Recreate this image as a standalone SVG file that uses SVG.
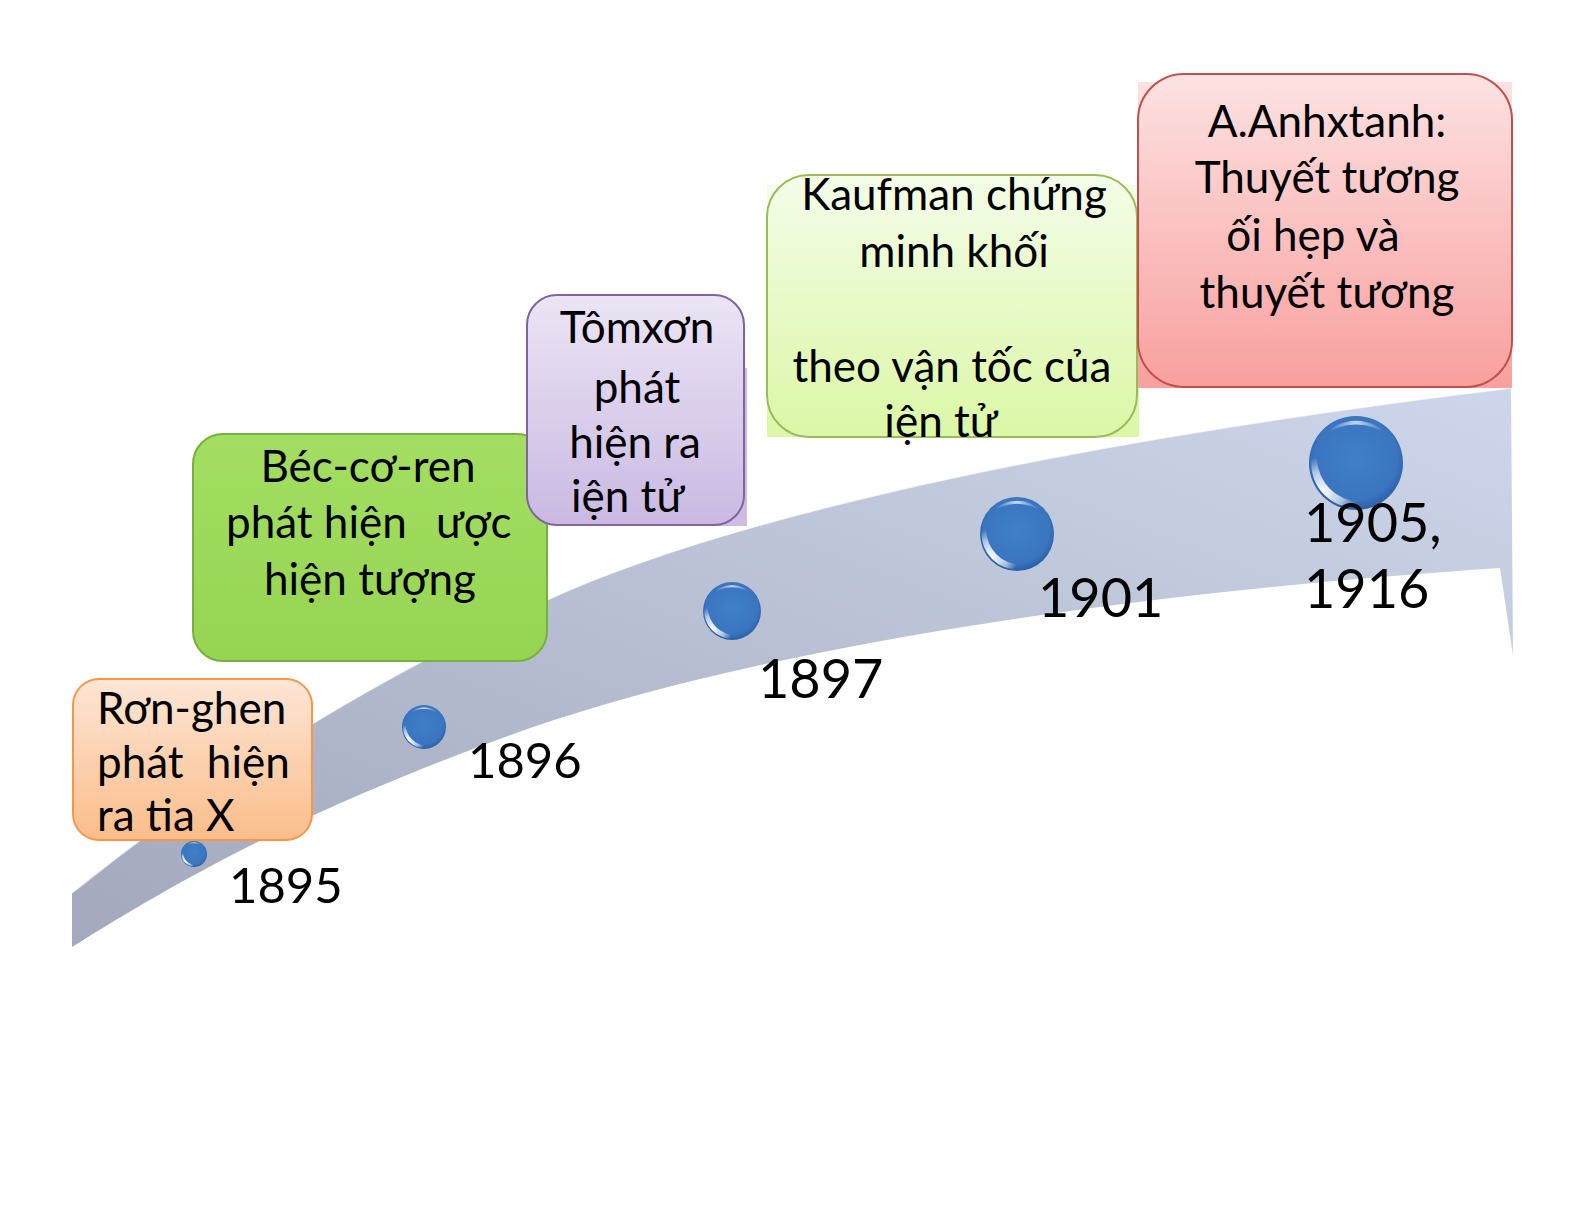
<svg xmlns="http://www.w3.org/2000/svg" xmlns:xlink="http://www.w3.org/1999/xlink" width="1585" height="1225" viewBox="0 0 1585 1225">
<style>
  text { font-family: Lato, "Liberation Sans", "Noto Sans", sans-serif; fill: #000; }
  .bx { font-size: 44px; }
  .yr { font-size: 54px; }
  .yrs { font-size: 49px; }
  .c { text-anchor: middle; }
</style>
<defs>
  <linearGradient id="gBand" x1="0" y1="1" x2="1" y2="0">
    <stop offset="0" stop-color="#a3a8bc"/>
    <stop offset="0.45" stop-color="#b6bdd1"/>
    <stop offset="1" stop-color="#cdd6ea"/>
  </linearGradient>
  <radialGradient id="gBall" cx="0.5" cy="0.45" r="0.55">
    <stop offset="0" stop-color="#4180c9"/>
    <stop offset="0.8" stop-color="#3a75c0"/>
    <stop offset="1" stop-color="#2b5ea5"/>
  </radialGradient>
  <radialGradient id="gShine" gradientUnits="userSpaceOnUse" cx="-0.72" cy="0.62" r="0.75">
    <stop offset="0" stop-color="#ffffff" stop-opacity="1"/>
    <stop offset="0.6" stop-color="#ffffff" stop-opacity="0.6"/>
    <stop offset="1" stop-color="#ffffff" stop-opacity="0"/>
  </radialGradient>
  <radialGradient id="gTop" gradientUnits="userSpaceOnUse" cx="0" cy="-0.85" r="0.6">
    <stop offset="0" stop-color="#ffffff" stop-opacity="0.7"/>
    <stop offset="1" stop-color="#ffffff" stop-opacity="0"/>
  </radialGradient>
  <linearGradient id="gOrange" x1="0" y1="0" x2="0" y2="1">
    <stop offset="0" stop-color="#fde6d6"/>
    <stop offset="1" stop-color="#fbbd8a"/>
  </linearGradient>
  <linearGradient id="gGreen" x1="0" y1="0" x2="0" y2="1">
    <stop offset="0" stop-color="#a3de62"/>
    <stop offset="1" stop-color="#96d452"/>
  </linearGradient>
  <linearGradient id="gPurple" x1="0" y1="0" x2="0" y2="1">
    <stop offset="0" stop-color="#ece5f5"/>
    <stop offset="1" stop-color="#c9b9e2"/>
  </linearGradient>
  <linearGradient id="gLime" x1="0" y1="0" x2="0" y2="1">
    <stop offset="0" stop-color="#f4fde8"/>
    <stop offset="1" stop-color="#dbf7a6"/>
  </linearGradient>
  <linearGradient id="gRed" x1="0" y1="0" x2="0" y2="1">
    <stop offset="0" stop-color="#fde2e2"/>
    <stop offset="1" stop-color="#f8a09e"/>
  </linearGradient>
  <g id="ball">
    <circle r="1" fill="url(#gBall)"/>
    <path d="M -0.72,-0.55 A 0.92 0.92 0 0 1 0.72,-0.55 A 1.1 1.1 0 0 0 -0.72,-0.55 Z" fill="url(#gTop)"/>
    <path d="M 0.741,0.611 A 0.96 0.96 0 1 1 -0.611,-0.741 A 0.96 0.96 0 0 0 0.741,0.611 Z" fill="url(#gShine)"/>
  </g>
</defs>

<rect width="1585" height="1225" fill="#ffffff"/>

<g id="timeline-band">
  <path d="M72,893 C200,790 350,690 547,600 C700,530 1000,450 1511,388 L1513,655 L1500,568 C1100,595 760,650 533,727 C300,810 180,880 72,947 Z" fill="url(#gBand)"/>
  <path d="M72,893 C200,790 350,690 547,600 C700,530 1000,450 1511,388" fill="none" stroke="#ffffff" stroke-width="1.5" opacity="0.7"/>
</g>

<g id="connectors"></g>

<g id="dot-1895"><use xlink:href="#ball" transform="translate(194,854) scale(13)"/></g>
<g id="dot-1896"><use xlink:href="#ball" transform="translate(424,727) scale(22)"/></g>
<g id="dot-1897"><use xlink:href="#ball" transform="translate(732,611) scale(29)"/></g>
<g id="dot-1901"><use xlink:href="#ball" transform="translate(1017,534) scale(37)"/></g>
<g id="dot-1905"><use xlink:href="#ball" transform="translate(1356,463) scale(47)"/></g>

<g id="label-1895"><text class="yrs" x="229" y="903">1895</text></g>
<g id="label-1896"><text class="yrs" x="468" y="778">1896</text></g>
<g id="label-1897"><text class="yr" x="758" y="698">1897</text></g>
<g id="label-1901"><text class="yr" x="1038" y="617">1901</text></g>
<g id="label-1905"><text class="yr" x="1304" y="542">1905,</text><text class="yr" x="1304" y="608">1916</text></g>

<g id="box-ronghen">
  <rect x="73" y="679" width="239" height="161" rx="26" fill="url(#gOrange)" stroke="#f79646" stroke-width="2"/>
  <text class="bx" x="97" y="724">Rơn-ghen</text>
  <text class="bx" x="97" y="778" word-spacing="12">phát hiện</text>
  <text class="bx" x="97" y="831">ra tia X</text>
</g>

<g id="box-beccoren">
  <rect x="193" y="434" width="354" height="227" rx="30" fill="url(#gGreen)" stroke="#76b03e" stroke-width="2"/>
  <text class="bx c" x="368" y="482">Béc-cơ-ren</text>
  <text class="bx" x="226" y="538">phát hiện <tspan x="436">ược</tspan></text>
  <text class="bx c" x="370" y="595">hiện tượng</text>
</g>

<g id="box-tomxon">
  <rect x="700" y="368" width="47" height="158" fill="#cdbde4"/>
  <rect x="527" y="295" width="217" height="230" rx="30" fill="url(#gPurple)" stroke="#8064a2" stroke-width="2"/>
  <text class="bx c" x="637" y="343">Tômxơn</text>
  <text class="bx c" x="637" y="403">phát</text>
  <text class="bx c" x="635" y="458">hiện ra</text>
  <text class="bx" x="571" y="512">iện tử</text>
</g>

<g id="box-kaufman">
  <rect x="767" y="185" width="372" height="252" fill="url(#gLime)"/>
  <rect x="767" y="175" width="370" height="262" rx="42" fill="url(#gLime)" stroke="#9bbb59" stroke-width="2"/>
  <text class="bx c" x="954" y="210">Kaufman chứng</text>
  <text class="bx c" x="954" y="267">minh khối</text>
  <text class="bx c" x="952" y="382">theo vận tốc của</text>
  <text class="bx c" x="941" y="437">iện tử</text>
</g>

<g id="box-anhxtanh">
  <rect x="1138" y="82" width="374" height="306" fill="url(#gRed)"/>
  <rect x="1138" y="74" width="374" height="313" rx="46" fill="url(#gRed)" stroke="#c0504d" stroke-width="2"/>
  <text class="bx c" x="1327" y="137">A.Anhxtanh:</text>
  <text class="bx c" x="1327" y="193">Thuyết tương</text>
  <text class="bx c" x="1313" y="251">ối hẹp và</text>
  <text class="bx c" x="1327" y="308">thuyết tương</text>
</g>
</svg>
